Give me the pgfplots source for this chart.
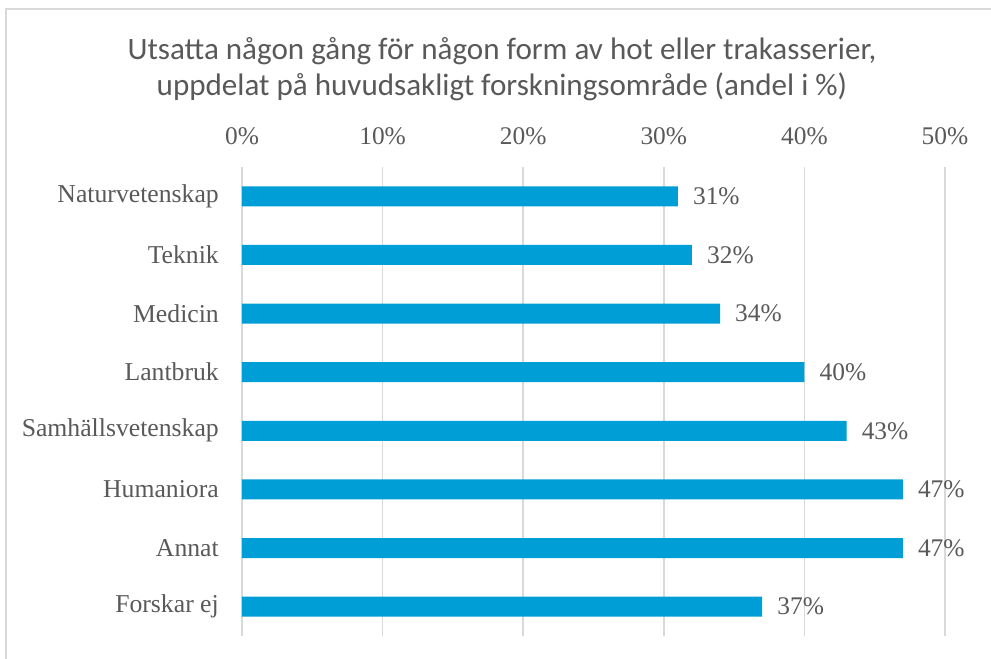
\documentclass[border=0pt]{standalone}
\usepackage{pgfplots}
\pgfplotsset{compat=1.18}
\usepackage{fontspec}
\setmainfont{Liberation Serif}
\newfontfamily\titlefont{Carlito}
\definecolor{barblue}{HTML}{009ED6}
\definecolor{txtgray}{HTML}{595959}
\definecolor{gridgray}{HTML}{D9D9D9}
\begin{document}
\begin{tikzpicture}
% whole chart: 991 x 659 bp, plot area SW corner at image (242,636)
\useasboundingbox (-242bp,-23bp) rectangle (749bp,636bp);
\draw[gridgray, line width=2bp] (-236.3bp,-23bp) -- (-236.3bp,627.3bp) -- (749bp,627.3bp);
\node[text=txtgray, align=center, font=\titlefont\fontsize{31.2}{35.5}\selectfont]
  at (260bp,567bp) {Utsatta någon gång för någon form av hot eller trakasserier,\\uppdelat på huvudsakligt forskningsområde (andel i \%)};
\begin{axis}[
    at={(0,0)}, anchor=south west,
    scale only axis,
    width=703bp, height=469bp,
    xbar,
    bar width=0.34,
    xmin=0, xmax=50,
    ymin=-0.5, ymax=7.5,
    y dir=reverse,
    axis line style={draw=none},
    xtick={0,10,20,30,40,50},
    xticklabel pos=top,
    xticklabel={\pgfmathprintnumber{\tick}\%},
    ytick={0,1,2,3,4,5,6,7},
    yticklabels={Naturvetenskap,Teknik,Medicin,Lantbruk,Samhällsvetenskap,Humaniora,Annat,Forskar ej},
    major tick length=0pt,
    tick style={draw=none},
    xmajorgrids=true,
    grid style={gridgray, line width=1.5bp},
    /pgf/number format/assume math mode=true,
    xticklabel style={font=\fontsize{25.5}{30}\selectfont, text=txtgray, inner sep=0pt, anchor=south, yshift=22bp},
    yticklabel style={font=\fontsize{25.8}{30}\selectfont, text=txtgray, inner sep=0pt, anchor=east, xshift=-23bp},
    nodes near coords={\pgfmathprintnumber{\pgfplotspointmeta}\%},
    nodes near coords style={font=\fontsize{25.5}{30}\selectfont, text=txtgray, inner sep=0pt, anchor=west, xshift=15bp},
]
\addplot[fill=barblue, draw=none] coordinates {
    (31,0) (32,1) (34,2) (40,3) (43,4) (47,5) (47,6) (37,7)
};
\end{axis}
\end{tikzpicture}
\end{document}
